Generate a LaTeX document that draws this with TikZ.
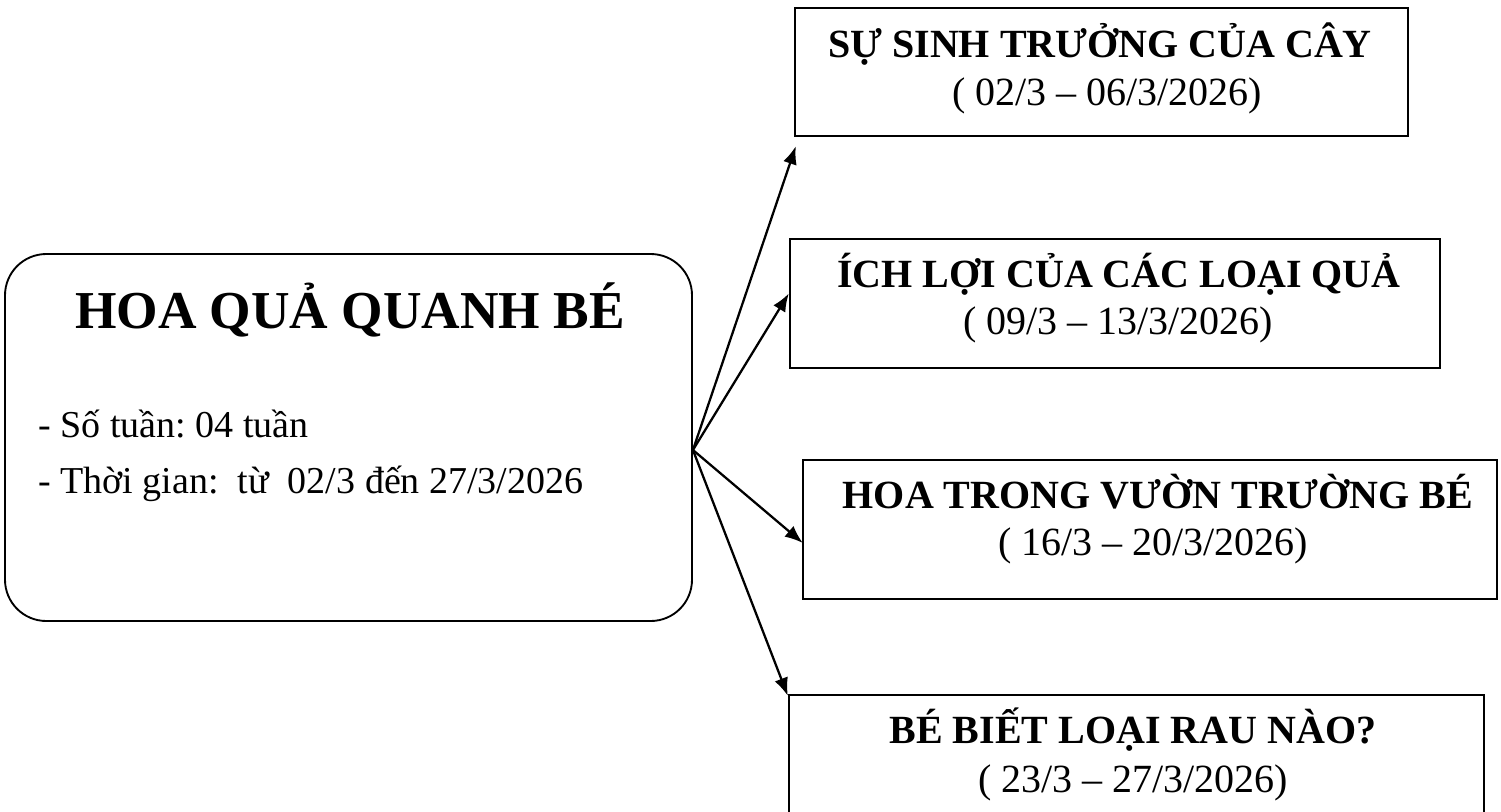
\documentclass[tikz,border=0pt]{standalone}
\usepackage{fontspec}
\setmainfont{Liberation Serif}
\frenchspacing
\usetikzlibrary{arrows.meta}
\tikzset{
  topicbox/.style={draw, line width=1.8pt, inner sep=0pt},
  mainbox/.style={draw, line width=1.4pt, rounded corners=31pt, inner sep=0pt},
  ttl/.style={anchor=base, inner sep=0pt, font=\fontsize{30pt}{36pt}\selectfont\bfseries},
  dte/.style={anchor=base, inner sep=0pt, font=\fontsize{30pt}{36pt}\selectfont},
  bigttl/.style={anchor=base, inner sep=0pt, font=\fontsize{40pt}{48pt}\selectfont\bfseries},
  bodytxt/.style={anchor=base west, inner sep=0pt, font=\fontsize{28.5pt}{34pt}\selectfont},
  conn/.style={line width=1.7pt, -{Latex[length=13.5pt,width=10.5pt]}}
}
\begin{document}
\begin{tikzpicture}[x=0.75pt,y=-0.75pt]
\useasboundingbox[fill=white] (0,0) rectangle (1501,811);
% main rounded box
\node[mainbox, minimum width=515.25pt, minimum height=275.25pt] (main) at (348.5,437.5) {};
\node[bigttl] (mt) at (350,328) {HOA QUẢ QUANH BÉ};
\node[bodytxt] (l1) at (38,437) {- Số tuần: 04 tuần};
\node[bodytxt] (l2) at (38,493) {- Thời gian:\ \ từ\ \ 02/3 đến 27/3/2026};
% topic boxes
\node[topicbox, minimum width=459.75pt, minimum height=96pt] (b1) at (1101.5,72) {};
\node[ttl] (t1) at (1100,57) {SỰ SINH TRƯỞNG CỦA CÂY};
\node[dte] (d1) at (1107,105) {( 02/3 – 06/3/2026)};
\node[topicbox, minimum width=487.5pt, minimum height=96.75pt] (b2) at (1115,303.5) {};
\node[ttl] (t2) at (1119,287) {ÍCH LỢI CỦA CÁC LOẠI QUẢ};
\node[dte] (d2) at (1118,334) {( 09/3 – 13/3/2026)};
\node[topicbox, minimum width=520.5pt, minimum height=104.25pt] (b3) at (1150,529.5) {};
\node[ttl] (t3) at (1158,508) {HOA TRONG VƯỜN TRƯỜNG BÉ};
\node[dte] (d3) at (1153,555) {( 16/3 – 20/3/2026)};
\node[topicbox, minimum width=521.25pt, minimum height=123.75pt] (b4) at (1136.5,777.5) {};
\node[ttl] (t4) at (1133,743) {BÉ BIẾT LOẠI RAU NÀO?};
\node[dte] (d4) at (1133,792) {( 23/3 – 27/3/2026)};
% connectors
\coordinate (hub) at ([shift={(0,12.5)}]main.east);
\draw[conn] (hub) -- ([shift={(2,9)}]b1.south west);
\draw[conn] (hub) -- ([shift={(0,-10)}]b2.west);
\draw[conn] (hub) -- ([shift={(1,13.5)}]b3.west);
\draw[conn] (hub) -- ([shift={(0,2)}]b4.north west);
\end{tikzpicture}
\end{document}
